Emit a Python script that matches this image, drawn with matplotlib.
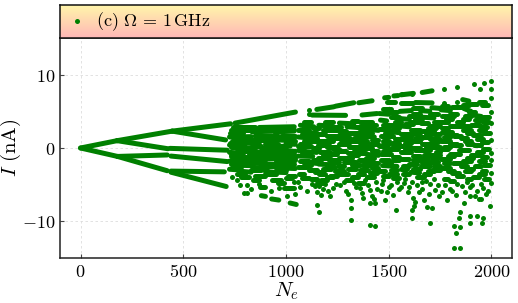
import numpy as np
import matplotlib
matplotlib.use('Agg')
import matplotlib.pyplot as plt
from matplotlib.collections import LineCollection
from matplotlib.ticker import FuncFormatter

plt.rcParams['mathtext.fontset'] = 'cm'
plt.rcParams['font.family'] = ['DejaVu Serif']

# ---------------- data ----------------
# continuous fan branches: (x0, y0, x1, y1)
fan_branches = [
    (0, 0.0, 178, 1.0), (0, 0.0, 180, -1.15),
    (178, 1.0, 446, 2.3), (446, 2.3, 730, 3.3), (752, 3.4, 1046, 4.9),
    (446, 2.3, 706, 1.1), (178, 1.0, 425, -0.1), (435, -0.05, 714, -0.3),
    (180, -1.15, 422, -0.95), (440, -1.1, 714, -1.85),
    (180, -1.15, 422, -3.1), (440, -3.15, 700, -3.25), (440, -3.3, 709, -5.25),
]

# short runs of points: (x0, x1, y0, y1)
runs_720_1050 = [
    (740, 850, 2.8, 2.8), (870, 1040, 2.8, 2.9), (725, 830, 1.5, 1.55),
    (850, 960, 1.6, 1.65), (975, 1045, 1.7, 1.7), (725, 790, 2.1, 2.1),
    (740, 830, 0.9, 1.0), (725, 800, 0.4, 0.35), (760, 830, -0.1, -0.1),
    (725, 790, -0.6, -0.7), (735, 820, -1.2, -1.3), (725, 800, -1.8, -1.85),
    (750, 830, -2.35, -2.4), (725, 780, -2.9, -3.0), (790, 830, -3.2, -3.3),
    (835, 930, 2.2, 2.3), (840, 900, 1.1, 1.1), (905, 940, 0.8, 0.9),
    (835, 880, 0.3, 0.3), (880, 940, 0.0, -0.1), (840, 935, -0.55, -0.5),
    (850, 940, -1.1, -1.15), (835, 900, -1.6, -1.7), (860, 940, -2.1, -2.2),
    (840, 910, -2.7, -2.75), (900, 940, -3.2, -3.3), (850, 900, -3.8, -3.8),
    (875, 900, -5.25, -5.25), (880, 900, -6.5, -6.6), (930, 975, -4.35, -4.35),
    (930, 965, -6.95, -7.1),
    (945, 1040, 2.2, 2.3), (950, 1000, 1.1, 1.05), (1000, 1045, 0.6, 0.5),
    (945, 1020, 0.2, 0.25), (955, 1045, -0.4, -0.45), (945, 1000, -0.95, -1.0),
    (1005, 1045, -1.3, -1.3), (950, 1030, -1.8, -1.8), (945, 990, -2.4, -2.5),
    (1000, 1045, -2.75, -2.8), (950, 1000, -3.3, -3.35), (1010, 1045, -3.8, -3.8),
    (990, 1040, -5.5, -5.5), (1020, 1050, -7.5, -7.7),
    (730, 780, 2.45, 2.45), (800, 870, 2.5, 2.5), (900, 960, 2.5, 2.5),
    (980, 1040, 2.55, 2.5), (760, 830, 1.25, 1.25), (870, 940, 1.35, 1.35),
    (960, 1040, 1.35, 1.3), (725, 760, 0.65, 0.65), (800, 870, 0.65, 0.6),
    (900, 960, 0.5, 0.5), (1010, 1045, 0.9, 0.9), (730, 760, 0.1, 0.1),
    (800, 850, 0.05, 0.05), (940, 1000, -0.1, -0.1), (790, 840, -0.35, -0.35),
    (900, 950, -0.8, -0.8), (990, 1040, -0.75, -0.75), (730, 790, -0.95, -0.95),
    (820, 870, -0.85, -0.85), (950, 990, -1.35, -1.35), (790, 850, -1.55, -1.55),
    (900, 960, -1.4, -1.4), (1010, 1045, -1.6, -1.6), (730, 760, -2.2, -2.2),
    (790, 850, -2.1, -2.1), (900, 950, -2.45, -2.45), (990, 1040, -2.15, -2.15),
    (740, 780, -2.6, -2.6), (830, 880, -3.0, -3.0), (950, 1000, -2.95, -2.95),
    (760, 800, -3.6, -3.6), (900, 950, -3.6, -3.6), (1000, 1030, -4.1, -4.1),
    (780, 820, -4.0, -4.0), (840, 870, -4.4, -4.4), (960, 990, -4.8, -4.8),
]
runs_1050_1450 = [
    (1127, 1290, 4.49, 4.45), (1070, 1135, 3.1, 2.9), (1060, 1110, 2.4, 2.4),
    (1115, 1150, 2.0, 2.0), (1060, 1100, 1.5, 1.4), (1090, 1150, 0.9, 0.9),
    (1060, 1120, 0.3, 0.3), (1060, 1090, -0.3, -0.3), (1100, 1150, -0.5, -0.6),
    (1060, 1130, -1.1, -1.15), (1070, 1110, -1.8, -1.8), (1115, 1150, -2.0, -2.1),
    (1060, 1100, -2.6, -2.6), (1110, 1150, -3.0, -3.0), (1065, 1090, -3.6, -3.6),
    (1120, 1150, -4.2, -4.2),
    (1150, 1233, 5.26, 5.62), (1160, 1220, 3.1, 3.0), (1180, 1250, 2.5, 2.5),
    (1155, 1190, 1.9, 1.9), (1200, 1250, 1.6, 1.6), (1160, 1230, 1.0, 1.0),
    (1155, 1190, 0.4, 0.4), (1200, 1250, 0.1, 0.1), (1165, 1215, -0.5, -0.5),
    (1225, 1250, -0.8, -0.8), (1155, 1200, -1.3, -1.3), (1210, 1250, -1.6, -1.6),
    (1160, 1230, -2.2, -2.3), (1180, 1220, -2.9, -2.9), (1160, 1190, -3.6, -3.6),
    (1215, 1250, -3.8, -3.8), (1170, 1200, -4.4, -4.4),
    (1241, 1330, 5.7, 6.17), (1260, 1330, 3.4, 3.3), (1297, 1395, 2.9, 2.7),
    (1260, 1290, 2.3, 2.3), (1300, 1350, 2.0, 2.0), (1255, 1310, 1.3, 1.3),
    (1320, 1350, 1.0, 1.0), (1260, 1300, 0.5, 0.5), (1305, 1350, 0.2, 0.2),
    (1255, 1290, -0.4, -0.4), (1300, 1345, -0.7, -0.7), (1260, 1320, -1.3, -1.3),
    (1280, 1340, -1.9, -1.9), (1255, 1280, -2.5, -2.5), (1300, 1340, -2.8, -2.8),
    (1260, 1300, -3.5, -3.5), (1320, 1350, -4.0, -4.0),
    (1354, 1419, 6.17, 6.44), (1370, 1443, 4.5, 4.7), (1360, 1420, 3.6, 3.6),
    (1355, 1400, 2.2, 2.2), (1410, 1450, 2.5, 2.4), (1360, 1430, 1.6, 1.5),
    (1355, 1395, 0.9, 0.9), (1405, 1450, 0.6, 0.6), (1360, 1420, 0.0, 0.0),
    (1360, 1390, -0.7, -0.7), (1400, 1450, -0.9, -1.0), (1355, 1420, -1.6, -1.6),
    (1370, 1410, -2.3, -2.3), (1420, 1450, -2.0, -2.0), (1360, 1400, -3.0, -3.0),
    (1410, 1445, -3.4, -3.4),
    (1090, 1120, 3.5, 3.5), (1190, 1230, 3.6, 3.6), (1320, 1350, 3.7, 3.7),
    (1400, 1440, 3.2, 3.2), (1130, 1160, 2.7, 2.7), (1230, 1270, 2.8, 2.8),
    (1350, 1390, 2.9, 2.9), (1080, 1120, 1.9, 1.9), (1260, 1290, 1.75, 1.75),
    (1380, 1420, 2.0, 2.0), (1110, 1150, 1.3, 1.3), (1220, 1260, 1.3, 1.3),
    (1330, 1370, 1.3, 1.3), (1420, 1450, 1.15, 1.15), (1070, 1100, 0.6, 0.6),
    (1180, 1210, 0.7, 0.7), (1270, 1310, 0.85, 0.85), (1360, 1400, 0.4, 0.4),
    (1130, 1160, 0.0, 0.0), (1230, 1260, -0.2, -0.2), (1330, 1360, -0.2, -0.2),
    (1420, 1450, -0.4, -0.4), (1080, 1110, -0.7, -0.7), (1180, 1220, -0.9, -0.9),
    (1320, 1350, -1.0, -1.0), (1130, 1170, -1.6, -1.6), (1230, 1260, -1.9, -1.9),
    (1390, 1430, -1.3, -1.3), (1090, 1120, -2.3, -2.3), (1200, 1240, -2.6, -2.6),
    (1320, 1360, -2.3, -2.3), (1420, 1450, -2.7, -2.7), (1140, 1180, -3.3, -3.3),
    (1240, 1280, -3.1, -3.1), (1350, 1380, -3.5, -3.5), (1080, 1110, -4.1, -4.1),
    (1200, 1230, -4.0, -4.0), (1290, 1320, -4.3, -4.3), (1400, 1430, -4.0, -4.0),
    (1150, 1180, -4.8, -4.8), (1350, 1380, -4.8, -4.8),
]
runs_1450_1750 = [
    (1480, 1500, 6.85, 6.9), (1525, 1545, 7.1, 7.15), (1490, 1530, 6.25, 6.25),
    (1455, 1500, 4.7, 4.6), (1510, 1550, 4.2, 4.2), (1460, 1490, 3.8, 3.7),
    (1495, 1550, 3.2, 3.2), (1455, 1500, 2.6, 2.6), (1510, 1550, 2.2, 2.1),
    (1460, 1520, 1.6, 1.6), (1470, 1500, 1.0, 1.0), (1515, 1550, 0.7, 0.7),
    (1455, 1490, 0.3, 0.3), (1500, 1545, -0.1, -0.1), (1460, 1510, -0.8, -0.8),
    (1520, 1550, -1.2, -1.2), (1460, 1500, -1.7, -1.7), (1470, 1540, -2.4, -2.5),
    (1455, 1480, -3.2, -3.2), (1500, 1540, -3.5, -3.5),
    (1560, 1620, 7.25, 7.45), (1560, 1620, 6.2, 6.2), (1555, 1610, 5.0, 5.1),
    (1620, 1650, 4.6, 4.6), (1560, 1600, 4.0, 3.9), (1605, 1650, 3.6, 3.6),
    (1555, 1600, 3.0, 2.9), (1610, 1650, 2.5, 2.5), (1560, 1620, 1.9, 1.9),
    (1560, 1590, 1.2, 1.2), (1600, 1650, 0.9, 0.9), (1555, 1600, 0.3, 0.3),
    (1610, 1650, 0.0, 0.0), (1560, 1610, -0.6, -0.6), (1620, 1650, -1.1, -1.1),
    (1555, 1600, -1.5, -1.5), (1600, 1640, -2.2, -2.2), (1560, 1590, -2.9, -2.9),
    (1610, 1650, -3.3, -3.4),
    (1663, 1711, 7.57, 7.8), (1630, 1711, 6.2, 6.15), (1655, 1700, 5.1, 5.0),
    (1710, 1750, 5.5, 5.4), (1660, 1720, 4.2, 4.1), (1655, 1690, 3.4, 3.4),
    (1700, 1750, 3.0, 3.0), (1660, 1720, 2.3, 2.3), (1655, 1690, 1.5, 1.5),
    (1700, 1750, 1.2, 1.2), (1660, 1700, 0.6, 0.6), (1710, 1750, 0.2, 0.2),
    (1655, 1700, -0.3, -0.3), (1705, 1750, -0.9, -0.9), (1660, 1690, -1.5, -1.5),
    (1700, 1740, -1.9, -1.9), (1655, 1700, -2.5, -2.5), (1710, 1750, -3.0, -3.0),
    (1670, 1700, -3.6, -3.6),
    (1470, 1510, 5.3, 5.3), (1620, 1660, 5.4, 5.4), (1500, 1540, 4.9, 4.9),
    (1600, 1630, 4.3, 4.3), (1700, 1740, 4.6, 4.6), (1530, 1560, 3.6, 3.6),
    (1630, 1660, 3.95, 3.95), (1720, 1750, 3.5, 3.5), (1470, 1500, 3.1, 3.1),
    (1580, 1620, 3.3, 3.3), (1690, 1730, 2.7, 2.7), (1520, 1550, 2.7, 2.7),
    (1620, 1650, 2.1, 2.1), (1720, 1750, 1.9, 1.9), (1480, 1510, 2.0, 2.0),
    (1580, 1610, 1.5, 1.5), (1680, 1710, 1.9, 1.9), (1530, 1560, 1.2, 1.2),
    (1630, 1660, 1.4, 1.4), (1710, 1740, 0.8, 0.8), (1470, 1500, 0.6, 0.6),
    (1580, 1610, 0.65, 0.65), (1680, 1710, 0.2, 0.2), (1520, 1550, 0.3, 0.3),
    (1630, 1660, -0.3, -0.3), (1730, 1750, -0.5, -0.5), (1470, 1500, -0.4, -0.4),
    (1580, 1610, -0.2, -0.2), (1670, 1700, -1.0, -1.0), (1520, 1550, -1.7, -1.7),
    (1620, 1650, -1.7, -1.7), (1710, 1740, -1.4, -1.4), (1480, 1510, -2.1, -2.1),
    (1570, 1600, -2.5, -2.5), (1660, 1700, -2.1, -2.1), (1510, 1540, -3.0, -3.0),
    (1620, 1650, -2.8, -2.8), (1720, 1750, -2.5, -2.5), (1470, 1500, -3.8, -3.8),
    (1570, 1600, -3.5, -3.5), (1690, 1720, -3.2, -3.2), (1520, 1550, -4.1, -4.1),
    (1640, 1670, -4.0, -4.0),
]
runs_1750_2000 = [
    (1755, 1800, 5.2, 5.1), (1810, 1850, 5.6, 5.6), (1760, 1820, 4.3, 4.3),
    (1755, 1790, 3.5, 3.5), (1800, 1850, 3.0, 3.0), (1760, 1810, 2.2, 2.2),
    (1820, 1850, 1.6, 1.6), (1755, 1800, 1.0, 1.0), (1810, 1850, 0.4, 0.4),
    (1760, 1790, -0.2, -0.2), (1800, 1845, -0.8, -0.8), (1755, 1800, -1.5, -1.5),
    (1815, 1850, -2.0, -2.0), (1760, 1800, -2.7, -2.7), (1810, 1840, -3.4, -3.4),
    (1770, 1790, -4.2, -4.2),
    (1860, 1890, 6.6, 6.4), (1900, 1930, 6.0, 6.0), (1865, 1900, 5.4, 5.0),
    (1910, 1950, 4.5, 4.3), (1860, 1890, 3.9, 3.9), (1900, 1945, 3.2, 3.2),
    (1860, 1900, 2.5, 2.5), (1910, 1950, 1.8, 1.8), (1870, 1900, 1.0, 1.0),
    (1915, 1950, 0.4, 0.4), (1860, 1890, -0.3, -0.3), (1900, 1940, -1.0, -1.0),
    (1860, 1900, -1.8, -1.8), (1920, 1950, -2.5, -2.5), (1870, 1900, -3.2, -3.2),
    (1910, 1940, -3.9, -3.9),
    (1955, 1985, 5.8, 5.8), (1960, 1990, 4.2, 4.2), (1955, 1980, 2.8, 2.8),
    (1965, 1995, 2.0, 2.0), (1955, 1985, 0.8, 0.8), (1960, 1990, -0.2, -0.2),
    (1955, 1980, -1.2, -1.2), (1965, 1995, -2.3, -2.3), (1955, 1975, -3.1, -3.1),
    (1965, 1990, -4.2, -4.2),
    (1760, 1790, 5.7, 5.7), (1860, 1890, 5.9, 5.9), (1940, 1970, 6.3, 6.3),
    (1800, 1830, 4.7, 4.7), (1890, 1920, 4.9, 4.9), (1780, 1810, 3.9, 3.9),
    (1870, 1900, 4.4, 4.4), (1960, 1990, 3.5, 3.5), (1830, 1860, 3.5, 3.5),
    (1920, 1950, 3.8, 3.8), (1760, 1790, 2.7, 2.7), (1860, 1890, 3.0, 3.0),
    (1940, 1970, 2.4, 2.4), (1800, 1830, 1.8, 1.8), (1880, 1910, 2.0, 2.0),
    (1770, 1800, 1.5, 1.5), (1850, 1880, 1.3, 1.3), (1930, 1960, 1.2, 1.2),
    (1800, 1830, 0.6, 0.6), (1880, 1910, 0.5, 0.5), (1770, 1800, 0.1, 0.1),
    (1840, 1870, -0.3, -0.3), (1930, 1960, -0.6, -0.6), (1790, 1820, -1.1, -1.1),
    (1880, 1910, -1.4, -1.4), (1770, 1800, -2.0, -2.0), (1850, 1880, -2.4, -2.4),
    (1940, 1970, -1.8, -1.8), (1790, 1820, -3.1, -3.1), (1880, 1910, -2.8, -2.8),
    (1830, 1860, -3.8, -3.8), (1940, 1970, -3.5, -3.5), (1800, 1820, -4.5, -4.5),
    (1880, 1900, -4.2, -4.2),
]

# isolated points
dots_x = [738, 778, 811, 795, 811, 760, 1040, 1058, 1140, 1150, 1111, 1111,
          1168, 1216, 1160, 1230, 1151, 1160, 1190, 1280, 1314, 1314, 1317, 1340,
          1265, 1370, 1411, 1420, 1427, 1411, 1435, 1411, 1431, 1385, 1440, 1395,
          1484, 1533, 1520, 1500, 1470, 1540, 1460, 1565, 1614, 1580, 1614, 1640,
          1560, 1611, 1620, 1630, 1595, 1614, 1622, 1671, 1687, 1711, 1703, 1680,
          1720, 1740, 1660, 1695, 1768, 1833, 1768, 1833, 1817, 1845, 1825, 1849,
          1840, 1820, 1846, 1800, 1830, 1760, 1785, 1914, 1946, 1898, 1898, 1930,
          1898, 1898, 1930, 1955, 1958, 1880, 1940, 1865, 1963, 2000, 2000, 2000,
          2000, 2000, 2000, 2000, 2000, 2000, 2000, 1992, 1960, 1975, 1950]
dots_y = [-3.9, -5.0, -5.0, -6.2, -6.1, -4.4, -4.6, -4.7, -5.2, -6.0, 5.17, 4.7,
          -6.4, -6.6, -5.2, -5.4, -7.8, -8.7, -4.9, -4.6, -7.1, -8.2, -9.8, -5.3,
          -5.0, -6.2, -5.7, -6.5, -6.9, -7.5, -7.5, -10.5, -10.6, -4.3, -4.6, -3.9,
          -7.1, -8.4, -6.4, -5.3, -4.4, -4.7, -5.8, 7.3, 7.4, -4.2, -4.6, -5.0,
          -5.3, -9.6, -6.8, -7.4, -6.0, -8.4, -7.85, -7.1, -8.0, -8.2, -10.2, -4.5,
          -4.2, -5.1, -5.6, -6.3, 8.0, 8.34, 6.2, 6.3, -10.6, -10.8, -11.6, -8.7,
          -9.5, -13.6, -13.7, -5.6, -4.9, -6.0, -7.1, 8.7, 8.1, -5.3, -6.6, -5.8,
          -9.3, -10.2, -9.3, -10.2, -9.6, -4.6, -7.0, -7.5, 8.93, 9.16, 7.98, 6.76,
          4.94, 3.4, 1.09, -0.73, -1.63, -3.45, -4.81, -7.9, -5.5, -6.3, -7.0]
dots2_x = [1070, 1100, 1125, 1180, 1205, 1245, 1290, 1300, 1330, 1360,
           1375, 1400, 1445, 1465, 1490, 1510, 1550, 1575, 1600, 1645,
           1660, 1700, 1725, 1745, 1775, 1810, 1825, 1855, 1870, 1905,
           1920, 1950, 1985, 1045, 1005, 965, 925, 870, 830]
dots2_y = [-5.3, -5.8, -4.9, -5.6, -5.9, -4.9, -5.8, -6.3, -4.8, -5.5,
           -6.8, -5.0, -5.6, -4.9, -6.0, -5.1, -5.6, -4.8, -5.3, -6.0,
           -4.7, -4.9, -5.7, -6.6, -5.0, -5.8, -6.4, -5.2, -6.0, -5.0,
           -6.5, -4.9, -5.8, -6.3, -6.6, -5.4, -5.9, -4.9, -5.6]

x_ticks = [0, 500, 1000, 1500, 2000]
y_ticks = [-10, 0, 10]
legend_label = r'$\mathrm{(c)}\ \Omega\, =\, 1\,\mathrm{GHz}$'

# ---------------- figure ----------------
W, H = 518, 303
fig = plt.figure(figsize=(W / 100, H / 100), dpi=100)
left, right, bottom, top = 60 / W, 512 / W, 1 - 258 / H, 1 - 38 / H
head_top = 1 - 5 / H
ax = fig.add_axes([left, bottom, right - left, top - bottom])

green = '#008000'
dot_pt = 3.6
segs = [[(x0, y0), (x1, y1)] for (x0, y0, x1, y1) in fan_branches]
for runs in (runs_720_1050, runs_1050_1450, runs_1450_1750, runs_1750_2000):
    segs += [[(x0, y0), (x1, y1)] for (x0, x1, y0, y1) in runs]
lc = LineCollection(segs, colors=green, linewidths=dot_pt, capstyle='round',
                    joinstyle='round', zorder=3)
ax.add_collection(lc)
sc = ax.scatter(dots_x, dots_y, s=dot_pt ** 2, color=green, linewidths=0,
                zorder=3, label=legend_label)
ax.scatter(dots2_x, dots2_y, s=dot_pt ** 2, color=green, linewidths=0, zorder=3)

ax.set_xlim(-100, 2100)
ax.set_ylim(-15, 15)
ax.set_xticks(x_ticks)
ax.set_yticks(y_ticks)
fmt = FuncFormatter(lambda v, p: r'$%d$' % v)
ax.xaxis.set_major_formatter(fmt)
ax.yaxis.set_major_formatter(fmt)
ax.tick_params(direction='in', length=3, width=0.8, labelsize=13, pad=3.5,
               top=False, right=False, color='#444444')
ax.grid(True, ls=(0, (3, 3)), lw=0.6, color='#dddddd', zorder=0)
ax.set_axisbelow(True)
for s in ax.spines.values():
    s.set_color('#222222')
    s.set_linewidth(1.1)
ax.set_xlabel(r'$N_e$', fontsize=15)
ax.set_ylabel(r'$I\ \mathrm{(nA)}$', fontsize=15)
ax.yaxis.set_label_coords(-0.082, 0.5)
ax.xaxis.set_label_coords(0.5, -0.1)

# header strip with gradient
hax = fig.add_axes([left, top, right - left, head_top - top])
c_top = np.array([255, 245, 170]) / 255
c_bot = np.array([255, 183, 183]) / 255
t = np.linspace(0, 1, 64)[:, None]
grad = (c_top[None, :] * (1 - t) + c_bot[None, :] * t)[:, None, :]
hax.imshow(grad, aspect='auto', extent=[0, 1, 0, 1], origin='upper')
hax.set_xticks([])
hax.set_yticks([])
for s in hax.spines.values():
    s.set_color('#111111')
    s.set_linewidth(1.1)

fig.legend(handles=[sc], labels=[legend_label], loc='center left',
           bbox_to_anchor=(left, (top + head_top) / 2), frameon=False,
           fontsize=13, borderaxespad=0, borderpad=0.35, handlelength=1.2,
           handletextpad=0.45, scatterpoints=1, markerscale=1.0)

fig.savefig('out.png', dpi=100)
